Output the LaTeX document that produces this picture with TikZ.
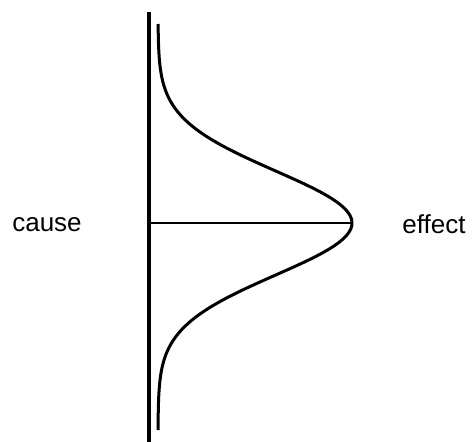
\documentclass[tikz,border=0pt]{standalone}
\usepackage{fontspec}
\setmainfont{Liberation Sans}
\usetikzlibrary{positioning}

\begin{document}
\begin{tikzpicture}[
  x=1pt, y=-1pt,
  axis/.style ={line width=3.4pt},
  bell/.style ={line width=3pt, line join=round},
  level/.style={line width=1.5pt},
  label/.style={font=\fontsize{26}{30}\selectfont, inner sep=0pt},
]
  \useasboundingbox (0,0) rectangle (472,442);

  % === Axis ===
  \coordinate (axtop) at (149,12);
  \coordinate (axbot) at (149,442);
  \draw[axis] (axtop) -- (axbot);

  % === Bell curve (sideways) ===
  \draw[bell] plot[domain=24:430, samples=120, variable=\y]
    ({158+194*exp(-0.5*((\y-223)/52)^2)}, \y);

  % === Level line to the peak ===
  \coordinate (base) at (149,223);
  \coordinate (peak) at (352,223);
  \draw[level] (base) -- (peak);

  % === Labels ===
  \node[label] (cause)  at (47,225)  {cause};
  \node[label] (effect) at (434,224) {effect};

\end{tikzpicture}
\end{document}
